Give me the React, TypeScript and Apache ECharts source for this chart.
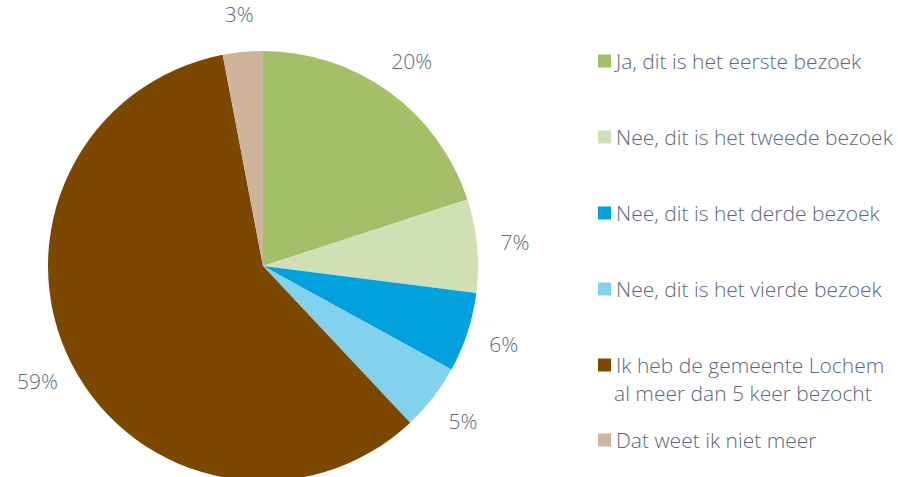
import React, { useEffect, useRef } from "react";
import * as echarts from "echarts";

const categories = [
  "Ja, dit is het eerste bezoek",
  "Nee, dit is het tweede bezoek",
  "Nee, dit is het derde bezoek",
  "Nee, dit is het vierde bezoek",
  "Ik heb de gemeente Lochem al meer dan 5 keer bezocht",
  "Dat weet ik niet meer",
];
const values = [20, 7, 6, 5, 59, 3];
const colors = ["#a3c068", "#d1e0b4", "#00a1dd", "#82d2ef", "#7c4800", "#cdb59b"];
const legendLines: Record<string, string[]> = {
  "Ik heb de gemeente Lochem al meer dan 5 keer bezocht": [
    "Ik heb de gemeente Lochem",
    "al meer dan 5 keer bezocht",
  ],
};

const FONT = "Open Sans";
const TEXT_COLOR = "#5d687a";

export default function App() {
  const ref = useRef<HTMLDivElement>(null);
  useEffect(() => {
    if (!ref.current) return;
    const chart = echarts.init(ref.current, undefined, { renderer: "svg" });
    const legendText = {
      fontFamily: FONT,
      fontWeight: 300 as any,
      fontSize: 21,
      color: TEXT_COLOR,
      lineHeight: 22,
    };
    const pieData = categories.map((name, i) => ({ name, value: values[i] }));
    chart.setOption({
      animation: false,
      color: colors,
      legend: [
        {
          data: categories.slice(0, 5),
          orient: "vertical",
          left: 593,
          top: 45,
          itemWidth: 13,
          itemHeight: 13,
          itemGap: 54,
          icon: "rect",
          selectedMode: false,
          textStyle: legendText,
          formatter: (name: string) => (legendLines[name] ? legendLines[name][0] : name),
        },
        {
          data: categories.slice(5),
          orient: "vertical",
          left: 593,
          top: 424,
          itemWidth: 13,
          itemHeight: 13,
          icon: "rect",
          selectedMode: false,
          textStyle: legendText,
        },
      ],
      graphic: [
        {
          type: "text",
          left: 614,
          top: 382,
          style: {
            text: legendLines[categories[4]][1],
            fontFamily: FONT,
            fontWeight: 300,
            fontSize: 21,
            fill: TEXT_COLOR,
          },
        },
      ],
      series: [
        {
          type: "pie",
          center: [263, 266],
          radius: 215,
          startAngle: 90,
          clockwise: true,
          data: pieData,
          label: { show: false },
          labelLine: { show: false },
          itemStyle: { borderWidth: 0 },
          emphasis: { disabled: true },
        },
        {
          type: "pie",
          center: [263, 266],
          radius: [236, 264],
          startAngle: 90,
          clockwise: true,
          silent: true,
          legendHoverLink: false,
          data: pieData,
          itemStyle: { color: "rgba(0,0,0,0)", borderWidth: 0 },
          label: {
            show: true,
            position: "inside",
            formatter: "{c}%",
            fontFamily: FONT,
            fontWeight: 300,
            fontSize: 21,
            color: TEXT_COLOR,
          },
          labelLine: { show: false },
          emphasis: { disabled: true },
        },
      ],
    });
    return () => chart.dispose();
  }, []);
  return (
    <div
      ref={ref}
      style={{ position: "fixed", left: 0, top: 0, width: 898, height: 477, background: "#fff" }}
    />
  );
}
